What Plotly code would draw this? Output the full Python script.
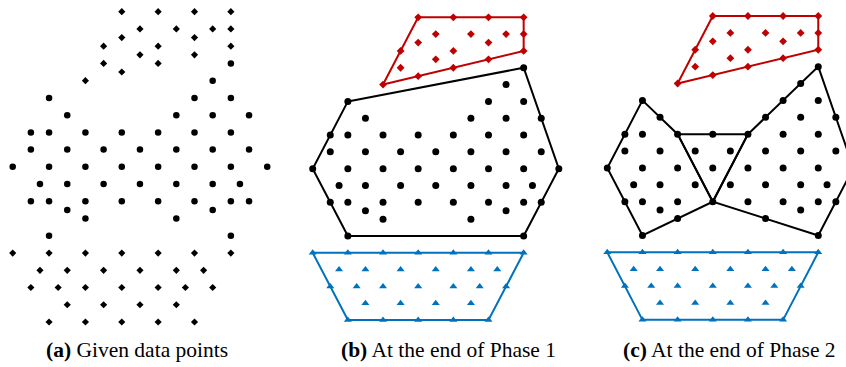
import plotly.graph_objects as go

# Lattice coordinates (column, row) of the data points, grouped by final cluster
red_x = [12, 16, 20, 24, 14, 18, 22, 24, 12, 20, 10, 16, 24, 14, 20, 10, 16, 12, 8]
red_y = [0, 0, 0, 0, 2, 2, 2, 2, 3, 3, 4, 4, 4, 5, 5, 6, 6, 7, 8]

black_x = [24,
           22,
           4, 20, 24,
           6, 18, 22, 26,
           2, 4, 8, 12, 16, 20, 24,
           2, 6, 10, 14, 18, 22, 26,
           0, 4, 8, 12, 16, 20, 24, 28,
           3, 6, 10, 14, 18, 22, 25,
           2, 4, 8, 12, 16, 20, 24, 26,
           6, 22,
           8, 18,
           4, 24]
black_y = [6,
           8,
           10, 10, 10,
           12, 12, 12, 12,
           14, 14, 14, 14, 14, 14, 14,
           16, 16, 16, 16, 16, 16, 16,
           18, 18, 18, 18, 18, 18, 18, 18,
           20, 20, 20, 20, 20, 20, 20,
           22, 22, 22, 22, 22, 22, 22, 22,
           23, 23,
           24, 24,
           26, 26]

blue_x = [0, 4, 8, 12, 16, 20, 24,
          3, 6, 10, 14, 18, 21,
          2, 5, 8, 12, 16, 19, 22,
          6, 10, 14, 18,
          4, 8, 12, 16, 20]
blue_y = [28, 28, 28, 28, 28, 28, 28,
          30, 30, 30, 30, 30, 30,
          32, 32, 32, 32, 32, 32, 32,
          34, 34, 34, 34,
          36, 36, 36, 36, 36]

# Cluster boundaries (closed polygons)
red_hull_x = [12, 24, 24, 8, 12]
red_hull_y = [0, 0, 4, 8, 0]
blue_hull_x = [0, 24, 20, 4, 0]
blue_hull_y = [28, 28, 36, 36, 28]
black_hull_x = [4, 24, 28, 24, 4, 0, 4]
black_hull_y = [10, 6, 18, 26, 26, 18, 10]

# Phase 2: the black cluster split into three parts
left_hull_x = [4, 8, 12, 4, 0, 4]
left_hull_y = [10, 14, 22, 26, 18, 10]
mid_hull_x = [8, 16, 12, 8]
mid_hull_y = [14, 14, 22, 14]
right_hull_x = [16, 24, 28, 24, 12, 16]
right_hull_y = [14, 6, 18, 26, 22, 14]

captions = ["<b>(a)</b> Given data points",
            "<b>(b)</b> At the end of Phase 1",
            "<b>(c)</b> At the end of Phase 2"]

RED = "#C00000"
BLUE = "#0072BD"
BLACK = "#000000"

W, H = 846, 367

fig = go.Figure()


def add_line(x, y, color, ax):
    fig.add_trace(go.Scatter(x=x, y=y, mode="lines", line=dict(color=color, width=2),
                             xaxis="x" + ax, yaxis="y" + ax, hoverinfo="skip",
                             showlegend=False))


def add_pts(x, y, color, symbol, size, ax):
    fig.add_trace(go.Scatter(x=x, y=y, mode="markers",
                             marker=dict(color=color, symbol=symbol, size=size, line=dict(width=0)),
                             xaxis="x" + ax, yaxis="y" + ax, showlegend=False, cliponaxis=True))


# (a) raw points, black
add_pts(red_x + blue_x, red_y + blue_y, BLACK, "diamond", 5.5, "")
add_pts(black_x, black_y, BLACK, "circle", 6.5, "")

# (b) phase 1 clusters
add_line(red_hull_x, red_hull_y, RED, "2")
add_line(black_hull_x, black_hull_y, BLACK, "2")
add_line(blue_hull_x, blue_hull_y, BLUE, "2")
add_pts(red_x, red_y, RED, "diamond", 6, "2")
add_pts(black_x, black_y, BLACK, "circle", 7, "2")
add_pts(blue_x, blue_y, BLUE, "triangle-up", 7, "2")

# (c) phase 2 clusters
add_line(red_hull_x, red_hull_y, RED, "3")
for hx, hy in [(left_hull_x, left_hull_y), (mid_hull_x, mid_hull_y), (right_hull_x, right_hull_y)]:
    add_line(hx, hy, BLACK, "3")
add_line(blue_hull_x, blue_hull_y, BLUE, "3")
add_pts(red_x, red_y, RED, "diamond", 6, "3")
add_pts(black_x, black_y, BLACK, "circle", 7, "3")
add_pts(blue_x, blue_y, BLUE, "triangle-up", 7, "3")


def axis_range(p0, p1, origin, step):
    return [(p0 - origin) / step, (p1 - origin) / step]


# panel pixel geometry: (left px, right px, x origin, x step, y origin, y step)
panels = [(0, 290, 12.7, 9.09, 11.7, 8.62),
          (290, 580, 312.7, 8.79, 17.3, 8.41),
          (580, 846, 607.3, 8.79, 16.0, 8.44)]

hidden = dict(visible=False, showgrid=False, zeroline=False, fixedrange=True)
for n, (l, r, x0, dx, y0, dy) in enumerate(panels):
    suffix = "" if n == 0 else str(n + 1)
    fig.layout["xaxis" + suffix] = dict(hidden, domain=[l / W, r / W],
                                        range=axis_range(l, r, x0, dx),
                                        anchor="y" + suffix)
    yr = axis_range(0, H, y0, dy)
    fig.layout["yaxis" + suffix] = dict(hidden, domain=[0, 1],
                                        range=[yr[1], yr[0]],
                                        anchor="x" + suffix)

caption_x = [137, 448, 729]
for cx, text in zip(caption_x, captions):
    fig.add_annotation(x=cx / W, y=1 - 350 / H, xref="paper", yref="paper",
                       text=text, showarrow=False, xanchor="center", yanchor="middle",
                       font=dict(family="Liberation Serif", size=21.5, color="black"))

fig.update_layout(width=W, height=H, margin=dict(l=0, r=0, t=0, b=0),
                  paper_bgcolor="white", plot_bgcolor="rgba(0,0,0,0)")

fig.write_html("out.html")
